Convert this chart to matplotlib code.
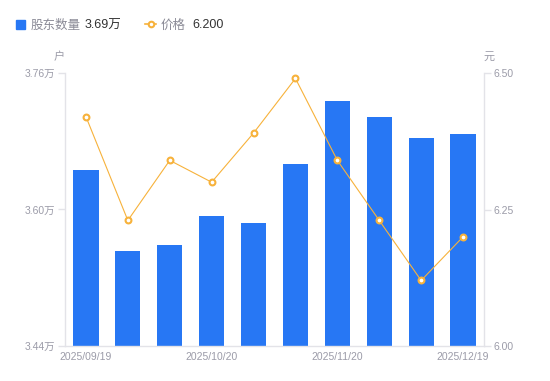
import matplotlib
matplotlib.use("Agg")
import matplotlib.pyplot as plt
from matplotlib.lines import Line2D

plt.rcParams['font.family'] = ['Liberation Sans', 'Noto Sans CJK SC', 'DejaVu Sans']

dates = ["2025/09/19", "2025/09/30", "2025/10/10", "2025/10/20", "2025/10/31",
         "2025/11/10", "2025/11/20", "2025/11/28", "2025/12/10", "2025/12/19"]
holders = [3.646, 3.551, 3.558, 3.592, 3.584, 3.653, 3.727, 3.708, 3.684, 3.689]  # 万户
price = [6.42, 6.23, 6.34, 6.30, 6.39, 6.49, 6.34, 6.23, 6.12, 6.20]
left_ticks = [3.44, 3.60, 3.76]
left_labels = ["3.44万", "3.60万", "3.76万"]
right_ticks = [6.00, 6.25, 6.50]
right_labels = ["6.00", "6.25", "6.50"]
shown_idx = [0, 3, 6, 9]

BLUE = "#2777F4"
ORANGE = "#F7B23B"
GRAY = "#9B9BA8"
AXC = "#E3E3E8"

fig = plt.figure(figsize=(5.5, 3.81), dpi=100)
ax = fig.add_axes([65/550, 1-346/381, (484-65)/550, (346-73)/381])
x = list(range(len(dates)))
ax.bar(x, holders, width=0.6, color=BLUE, bottom=0, zorder=2)
ax.set_ylim(left_ticks[0], left_ticks[-1])
ax.set_xlim(-0.5, len(dates)-0.5)
ax.set_yticks(left_ticks)
ax.set_yticklabels(left_labels)
ax.set_xticks([x[i] for i in shown_idx])
ax.set_xticklabels([dates[i] for i in shown_idx])

ax2 = ax.twinx()
ax2.plot(x, price, color=ORANGE, lw=0.8, marker='o', ms=4.2, mfc='white',
         mec=ORANGE, mew=1.5, zorder=3)
ax2.set_ylim(right_ticks[0], right_ticks[-1])
ax2.set_yticks(right_ticks)
ax2.set_yticklabels(right_labels)

for a in (ax, ax2):
    for s in a.spines.values():
        s.set_visible(False)
ax.spines['left'].set_visible(True)
ax.spines['bottom'].set_visible(True)
ax2.spines['right'].set_visible(True)
for s in (ax.spines['left'], ax.spines['bottom'], ax2.spines['right']):
    s.set_color(AXC)
    s.set_linewidth(1)

ax.tick_params(axis='y', colors=AXC, labelcolor=GRAY, labelsize=7.5, length=5, width=1, pad=2)
ax.tick_params(axis='x', length=0, labelcolor=GRAY, labelsize=7.5, pad=4)
ax2.tick_params(axis='y', colors=AXC, labelcolor=GRAY, labelsize=7.5, length=5, width=1, pad=2)

fig.text(59/550, 1-57/381, "户", color=GRAY, fontsize=8, ha='center', va='center')
fig.text(489/550, 1-57/381, "元", color=GRAY, fontsize=8, ha='center', va='center')

# legend
LY = 1-25.5/381
fig.patches.append(plt.Rectangle((16/550, 1-29/381), 9/550, 9/381, transform=fig.transFigure,
                                 color=BLUE, figure=fig))
fig.text(31/550, LY, "股东数量", color="#8A8A96", fontsize=9, va='center')
fig.text(85/550, LY, "3.69万", color="#333333", fontsize=9, va='center')
fig.lines.append(Line2D([145/550, 156/550], [1-24/381, 1-24/381], transform=fig.transFigure,
                        color=ORANGE, lw=1.2, figure=fig))
fig.lines.append(Line2D([150.5/550], [1-24/381], transform=fig.transFigure, color=ORANGE,
                        marker='o', ms=4, mfc='white', mec=ORANGE, mew=1.5, lw=0, figure=fig))
fig.text(161/550, LY, "价格", color="#8A8A96", fontsize=9, va='center')
fig.text(192/550, LY, "6.200", color="#333333", fontsize=9, va='center')

fig.savefig("out.png", dpi=100)
